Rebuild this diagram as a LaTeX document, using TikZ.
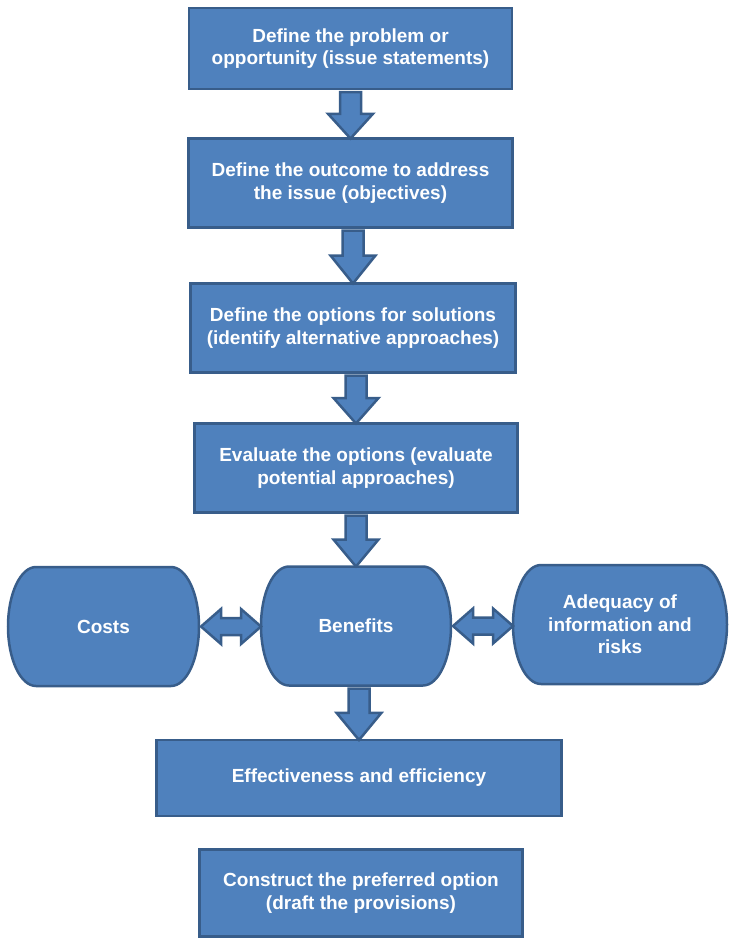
\documentclass[tikz,border=0pt]{standalone}
\usepackage{fontspec}
\setmainfont{Liberation Sans}
\usetikzlibrary{calc,backgrounds}

\definecolor{boxblue}{RGB}{79,129,189}
\definecolor{edgeblue}{RGB}{56,93,138}

\tikzset{
  stepbox/.style={draw=edgeblue, fill=boxblue, line width=2.5pt, text=white,
    align=center, inner sep=0pt, outer sep=0pt,
    font=\bfseries\fontsize{19}{22.5}\selectfont},
  pillbox/.style={text=white, align=center, inner sep=0pt, outer sep=0pt,
    minimum height=119, font=\bfseries\fontsize{19}{22.5}\selectfont},
  blockarrow/.style={draw=edgeblue, fill=boxblue, line width=2.5pt, line join=miter},
}

% block arrow pointing down from one box to the next
\newcommand{\downblock}[2]{%
  \draw[blockarrow] let \p1=(#1.south), \p2=(#2.north),
      \p3=($(#1.south)!0.5!(#2.north)$) in
    (\x2-10.5pt,\y1-3pt) -- (\x2+10.5pt,\y1-3pt) -- (\x2+10.5pt,\y3)
    -- (\x2+22.5pt,\y3) -- (\x2,\y2) -- (\x2-22.5pt,\y3)
    -- (\x2-10.5pt,\y3) -- cycle;}

% two-headed arrow between side by side shapes
\newcommand{\sideblock}[2]{%
  \draw[blockarrow] let \p1=(#1.east), \p2=(#2.west) in
    (\x1+2pt,\y1) -- (\x1+22pt,\y1+17.5pt) -- (\x1+22pt,\y1+8.5pt)
    -- (\x2-20pt,\y1+8.5pt) -- (\x2-20pt,\y1+17.5pt) -- (\x2,\y1)
    -- (\x2-20pt,\y1-17.5pt) -- (\x2-20pt,\y1-8.5pt)
    -- (\x1+22pt,\y1-8.5pt) -- (\x1+22pt,\y1-17.5pt) -- cycle;}

% outline with elliptic ends behind a pill node
\newcommand{\pillshape}[1]{%
  \filldraw[blockarrow] ([xshift=28pt]#1.north west) -- ([xshift=-28pt]#1.north east)
    arc[start angle=90, end angle=-90, x radius=28pt, y radius=59.5pt]
    -- ([xshift=28pt]#1.south west)
    arc[start angle=270, end angle=90, x radius=28pt, y radius=59.5pt] -- cycle;}

\begin{document}
\begin{tikzpicture}[x=1pt, y=-1pt]
    \useasboundingbox (0,0) rectangle (729,940);

    % main steps
    \node[stepbox, minimum width=323, minimum height=81] (problem) at (350.5,48.5)
        {Define the problem or\\opportunity (issue statements)};
    \node[stepbox, minimum width=324, minimum height=89] (outcome) at (350.5,183)
        {Define the outcome to address\\the issue (objectives)};
    \node[stepbox, minimum width=325, minimum height=89] (options) at (353,328)
        {Define the options for solutions\\(identify alternative approaches)};
    \node[stepbox, minimum width=323, minimum height=89] (evaluate) at (356,468)
        {Evaluate the options (evaluate\\potential approaches)};

    % criteria
    \node[pillbox, minimum width=191] (costs) at (103.5,626.5) {Costs};
    \node[pillbox, minimum width=190] (benefits) at (356,626) {Benefits};
    \node[pillbox, minimum width=214] (adequacy) at (620,624.5)
        {Adequacy of\\information and\\risks};
    \begin{scope}[on background layer]
        \pillshape{costs}
        \pillshape{benefits}
        \pillshape{adequacy}
    \end{scope}

    \node[stepbox, minimum width=405, minimum height=76] (effect) at (359,778)
        {Effectiveness and efficiency};
    \node[stepbox, minimum width=323, minimum height=87] (construct) at (361,893)
        {Construct the preferred option\\(draft the provisions)};

    % arrows
    \downblock{problem}{outcome}
    \downblock{outcome}{options}
    \downblock{options}{evaluate}
    \downblock{evaluate}{benefits}
    \downblock{benefits}{effect}
    \sideblock{costs}{benefits}
    \sideblock{benefits}{adequacy}
\end{tikzpicture}
\end{document}
